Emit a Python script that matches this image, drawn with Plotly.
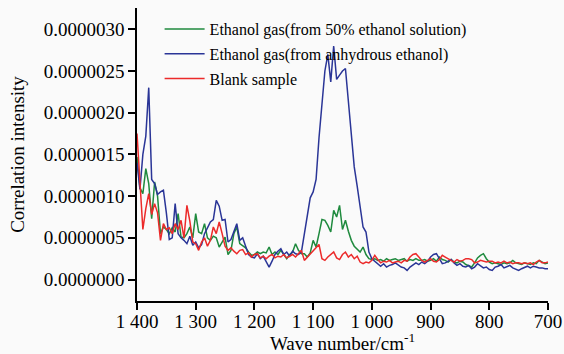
import plotly.graph_objects as go

# Wave numbers (cm^-1), sampled every 5 cm^-1 from 1400 down to 700
wavenumber = list(range(1400, 695, -5))

# Correlation intensity, in units of 1e-6
green_50pct = [
    1.47, 1.10, 1.03, 1.33, 1.15, 0.73, 1.17, 1.00, 0.55, 0.63,
    0.60, 0.55, 0.62, 0.57, 0.79, 0.51, 0.50, 0.55, 0.63, 0.50,
    0.79, 0.57, 0.55, 0.67, 0.50, 0.47, 0.52, 0.50, 0.39, 0.45,
    0.51, 0.30, 0.35, 0.55, 0.63, 0.43, 0.40, 0.38, 0.33, 0.29,
    0.30, 0.33, 0.31, 0.33, 0.32, 0.39, 0.30, 0.33, 0.30, 0.35,
    0.30, 0.25, 0.30, 0.33, 0.43, 0.35, 0.31, 0.31, 0.27, 0.32,
    0.47, 0.39, 0.55, 0.72, 0.71, 0.65, 0.57, 0.83, 0.75, 0.89,
    0.60, 0.71, 0.58, 0.47, 0.40, 0.36, 0.33, 0.39, 0.30, 0.25,
    0.24, 0.25, 0.23, 0.24, 0.22, 0.25, 0.23, 0.24, 0.25, 0.23,
    0.24, 0.25, 0.22, 0.24, 0.23, 0.25, 0.23, 0.23, 0.24, 0.22,
    0.23, 0.25, 0.22, 0.27, 0.24, 0.23, 0.21, 0.24, 0.21, 0.20,
    0.22, 0.21, 0.18, 0.16, 0.15, 0.20, 0.26, 0.29, 0.31, 0.25,
    0.21, 0.19, 0.20, 0.19, 0.18, 0.20, 0.19, 0.20, 0.23, 0.20,
    0.19, 0.18, 0.20, 0.19, 0.18, 0.20, 0.19, 0.23, 0.21, 0.19,
    0.20,
]

blue_anhydrous = [
    1.40, 1.08, 1.50, 1.72, 2.30, 1.20, 1.15, 1.02, 1.05, 1.07,
    0.80, 0.48, 0.50, 0.91, 0.55, 0.50, 0.47, 0.43, 0.52, 0.41,
    0.45, 0.38, 0.42, 0.55, 0.62, 0.69, 0.72, 0.95, 0.88, 0.71,
    0.72, 0.45, 0.48, 0.58, 0.67, 0.47, 0.50, 0.40, 0.30, 0.27,
    0.26, 0.31, 0.25, 0.28, 0.22, 0.15, 0.22, 0.30, 0.34, 0.37,
    0.30, 0.33, 0.28, 0.34, 0.31, 0.30, 0.33, 0.55, 0.78, 0.98,
    1.05, 1.20, 1.70, 2.10, 2.50, 2.70, 2.37, 2.80, 2.40, 2.45,
    2.50, 2.53, 2.15, 1.70, 1.35, 1.12, 0.90, 0.63, 0.57, 0.33,
    0.25, 0.22, 0.20, 0.16, 0.19, 0.15, 0.17, 0.18, 0.20, 0.17,
    0.15, 0.14, 0.11, 0.15, 0.17, 0.20, 0.18, 0.21, 0.19, 0.22,
    0.27, 0.30, 0.31, 0.24, 0.19, 0.20, 0.22, 0.24, 0.20, 0.17,
    0.19, 0.16, 0.15, 0.17, 0.13, 0.15, 0.19, 0.16, 0.14, 0.15,
    0.12, 0.11, 0.15, 0.16, 0.18, 0.14, 0.16, 0.17, 0.14, 0.12,
    0.11, 0.13, 0.15, 0.16, 0.14, 0.16, 0.15, 0.14, 0.14, 0.13,
    0.13,
]

red_blank = [
    1.75, 1.10, 0.60, 0.85, 1.03, 0.78, 0.91, 0.80, 0.47, 0.67,
    0.60, 0.62, 0.55, 0.67, 0.60, 0.71, 0.50, 0.89, 0.70, 0.45,
    0.43, 0.35, 0.45, 0.50, 0.40, 0.47, 0.63, 0.55, 0.69, 0.55,
    0.40, 0.35, 0.38, 0.34, 0.31, 0.35, 0.36, 0.30, 0.32, 0.27,
    0.30, 0.31, 0.26, 0.28, 0.25, 0.28, 0.30, 0.26, 0.28, 0.27,
    0.30, 0.26, 0.28, 0.30, 0.27, 0.31, 0.35, 0.23, 0.27, 0.30,
    0.35, 0.38, 0.42, 0.25, 0.23, 0.27, 0.30, 0.33, 0.26, 0.24,
    0.30, 0.33, 0.27, 0.30, 0.25, 0.28, 0.21, 0.19, 0.21, 0.20,
    0.23, 0.29, 0.24, 0.20, 0.22, 0.21, 0.23, 0.20, 0.21, 0.22,
    0.20, 0.23, 0.22, 0.27, 0.30, 0.31, 0.27, 0.23, 0.21, 0.23,
    0.25, 0.22, 0.21, 0.24, 0.29, 0.27, 0.25, 0.23, 0.21, 0.24,
    0.22, 0.23, 0.25, 0.25, 0.24, 0.20, 0.21, 0.23, 0.22, 0.21,
    0.22, 0.22, 0.20, 0.21, 0.20, 0.22, 0.20, 0.21, 0.19, 0.20,
    0.20, 0.19, 0.20, 0.19, 0.20, 0.18, 0.21, 0.23, 0.20, 0.20,
    0.21,
]

series_names = [
    "Ethanol gas(from 50% ethanol solution)",
    "Ethanol gas(from anhydrous ethanol)",
    "Blank sample",
]

x_tick_values = [1400, 1300, 1200, 1100, 1000, 900, 800, 700]
x_tick_labels = ["1 400", "1 300", "1 200", "1 100", "1 000", "900", "800", "700"]
y_tick_values = [0.0, 0.5e-6, 1.0e-6, 1.5e-6, 2.0e-6, 2.5e-6, 3.0e-6]
y_tick_labels = ["0.0000000", "0.0000005", "0.0000010", "0.0000015",
                 "0.0000020", "0.0000025", "0.0000030"]

SCALE = 1e-6
colors = ["#1f8a3e", "#2a3597", "#ec2a2a"]
FONT = "Liberation Serif"

fig = go.Figure()
for i, (name, vals) in enumerate(zip(series_names, [green_50pct, blue_anhydrous, red_blank])):
    fig.add_trace(go.Scatter(
        x=wavenumber,
        y=[v * SCALE for v in vals],
        mode="lines",
        name=name,
        legendgroup=f"g{i}",
        line=dict(color=colors[i], width=1.5),
    ))

fig.update_layout(
    width=564,
    height=354,
    margin=dict(l=137, r=16, t=8, b=53),
    paper_bgcolor="#fafafa",
    plot_bgcolor="#fafafa",
    font=dict(family=FONT, color="black", size=19),
    showlegend=True,
    legend=dict(
        x=0.055, y=0.986, xanchor="left", yanchor="top",
        bgcolor="rgba(0,0,0,0)",
        font=dict(family=FONT, size=16, color="black"),
        traceorder="grouped",
        tracegroupgap=1,
        itemwidth=40,
    ),
    xaxis=dict(
        range=[1400, 700],
        tickvals=x_tick_values,
        ticktext=x_tick_labels,
        showline=True, linecolor="black", linewidth=1.5,
        ticks="outside", ticklen=7, tickwidth=1.5, tickcolor="black",
        showgrid=False, zeroline=False, automargin=False,
        ticklabelstandoff=-5,
        tickfont=dict(family=FONT, size=19, color="black"),
        title=dict(text="Wave number/cm<sup>-1</sup>", font=dict(family=FONT, size=19, color="black"), standoff=8),
    ),
    yaxis=dict(
        range=[-0.257e-6, 3.255e-6],
        tickvals=y_tick_values,
        ticktext=y_tick_labels,
        showline=True, linecolor="black", linewidth=1.5,
        ticks="outside", ticklen=7, tickwidth=1.5, tickcolor="black",
        showgrid=False, zeroline=False, automargin=False,
        tickfont=dict(family=FONT, size=19, color="black"),
        title=dict(text="Correlation intensity", font=dict(family=FONT, size=19, color="black"), standoff=14),
    ),
)

fig.write_html("out.html")
